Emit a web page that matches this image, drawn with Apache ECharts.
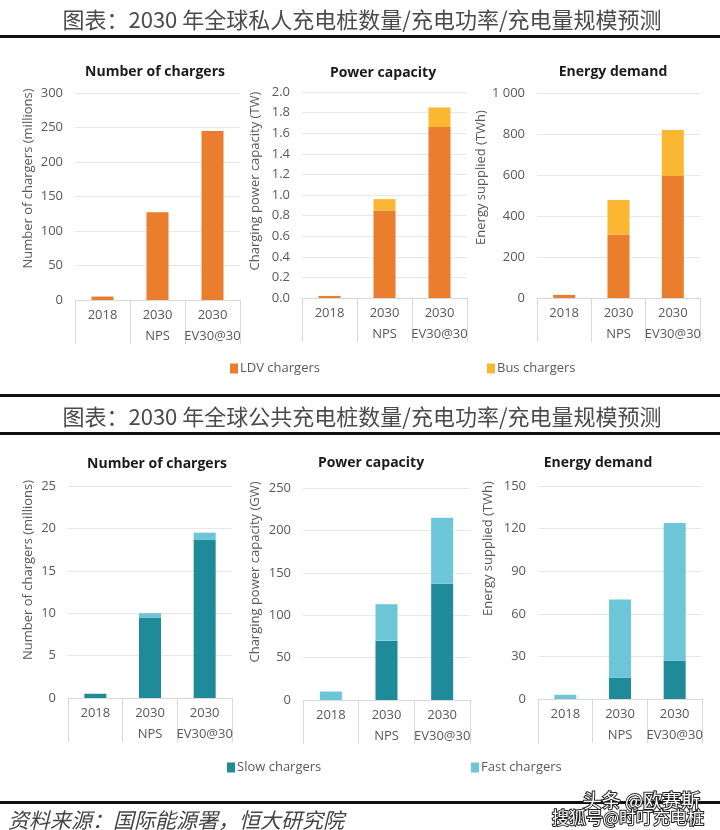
<!DOCTYPE html>
<html>
<head>
<meta charset="utf-8">
<script src="https://cdn.jsdelivr.net/npm/echarts@6/dist/echarts.min.js"></script>
<style>
html,body{margin:0;padding:0;background:#fff;}
#c{width:720px;height:830px;}
</style>
</head>
<body>
<div id="c"></div>
<script>
// ---- data ----
const categories = ['2018', '2030\nNPS', '2030\nEV30@30'];
const privChargersLDV = [5, 127, 245];
const privChargersBus = [0, 0, 0];
const privPowerLDV = [0.02, 0.85, 1.66];
const privPowerBus = [0, 0.11, 0.19];
const privEnergyLDV = [15, 310, 595];
const privEnergyBus = [0, 168, 225];
const pubChargersSlow = [0.5, 9.5, 18.7];
const pubChargersFast = [0, 0.5, 0.8];
const pubPowerSlow = [0, 70, 137];
const pubPowerFast = [10, 43, 78];
const pubEnergySlow = [0, 15, 27];
const pubEnergyFast = [3, 55, 97];

const mainTitleTop = '图表：2030 年全球私人充电桩数量/充电功率/充电量规模预测';
const mainTitleBottom = '图表：2030 年全球公共充电桩数量/充电功率/充电量规模预测';
const sourceText = '资料来源：国际能源署，恒大研究院';
const panelTitles = ['Number of chargers', 'Power capacity', 'Energy demand',
                     'Number of chargers', 'Power capacity', 'Energy demand'];
const axisNames = ['Number of chargers (millions)', 'Charging power capacity (TW)', 'Energy supplied (TWh)',
                   'Number of chargers (millions)', 'Charging power capacity (GW)', 'Energy supplied (TWh)'];
const seriesNames = ['LDV chargers', 'Bus chargers', 'Slow chargers', 'Fast chargers'];

// ---- styles / layout ----
const C_LDV = '#EB7D2E', C_BUS = '#FBB732', C_SLOW = '#1F8A9A', C_FAST = '#6CC6D8';
const FONT = '"Open Sans", "Noto Sans", sans-serif';
const CJK = '"Noto Sans CJK SC", sans-serif';
const grids = [
  {left: 75, top: 93, width: 165, height: 207},
  {left: 302, top: 92, width: 165, height: 206},
  {left: 537, top: 93, width: 163, height: 205},
  {left: 68, top: 486, width: 164, height: 212},
  {left: 303, top: 488, width: 167, height: 212},
  {left: 538, top: 486, width: 164, height: 213}
];
const yCfg = [
  {max: 300, interval: 50, fmt: v => String(v), gap: 40, shift: 18},
  {max: 2, interval: 0.2, fmt: v => v.toFixed(1), gap: 40, shift: 14},
  {max: 1000, interval: 200, fmt: v => v >= 1000 ? '1 000' : String(v), gap: 40, shift: 18},
  {max: 25, interval: 5, fmt: v => String(v), gap: 33, shift: 22},
  {max: 250, interval: 50, fmt: v => String(v), gap: 41, shift: 22},
  {max: 150, interval: 30, fmt: v => String(v), gap: 43, shift: 44}
];
const titlePos = [[155,72],[383,73],[613,72],[157,464],[371,463],[598,463]];

const xAxes = grids.map((g, i) => ({
  type: 'category', gridIndex: i, data: categories,
  axisLine: {lineStyle: {color: '#d9d9d9', width: 1}},
  axisTick: {show: true, interval: 0, length: 44, lineStyle: {color: '#d9d9d9'}},
  axisLabel: {interval: 0, color: '#595959', fontSize: 13, fontFamily: FONT, lineHeight: 21, margin: 5}
}));
const yAxes = grids.map((g, i) => ({
  type: 'value', gridIndex: i, min: 0, max: yCfg[i].max, interval: yCfg[i].interval,
  axisLine: {show: false}, axisTick: {show: false},
  splitLine: {lineStyle: {color: '#e8e8e8'}},
  axisLabel: {color: '#595959', fontSize: 13, fontFamily: FONT, margin: 12, formatter: yCfg[i].fmt},
  name: axisNames[i], nameLocation: 'middle', nameGap: yCfg[i].gap, nameRotate: 90,
  nameTextStyle: {color: '#595959', fontSize: 13, fontFamily: FONT, padding: [0, 0, 0, yCfg[i].shift * 2]}
}));

function bar(name, data, idx, color) {
  return {type: 'bar', name: name, data: data, xAxisIndex: idx, yAxisIndex: idx,
          stack: 's' + idx, barWidth: 22, itemStyle: {color: color}, silent: true};
}
const series = [
  bar(seriesNames[0], privChargersLDV, 0, C_LDV), bar(seriesNames[1], privChargersBus, 0, C_BUS),
  bar(seriesNames[0], privPowerLDV, 1, C_LDV), bar(seriesNames[1], privPowerBus, 1, C_BUS),
  bar(seriesNames[0], privEnergyLDV, 2, C_LDV), bar(seriesNames[1], privEnergyBus, 2, C_BUS),
  bar(seriesNames[2], pubChargersSlow, 3, C_SLOW), bar(seriesNames[3], pubChargersFast, 3, C_FAST),
  bar(seriesNames[2], pubPowerSlow, 4, C_SLOW), bar(seriesNames[3], pubPowerFast, 4, C_FAST),
  bar(seriesNames[2], pubEnergySlow, 5, C_SLOW), bar(seriesNames[3], pubEnergyFast, 5, C_FAST)
];

function legend(name, left, top) {
  return {data: [name], left: left, top: top, icon: 'rect', itemWidth: 8, itemHeight: 10, itemGap: 4,
          selectedMode: false,
          textStyle: {color: '#595959', fontSize: 13, fontFamily: FONT, padding: [0, 0, 0, -3]}};
}
const legends = [
  legend(seriesNames[0], 225, 357), legend(seriesNames[1], 482, 357),
  legend(seriesNames[2], 222, 756), legend(seriesNames[3], 466, 756)
];

const graphics = [];
function hline(y, h) {
  graphics.push({type: 'rect', shape: {x: 0, y: y, width: 720, height: h}, style: {fill: '#111'}, silent: true});
}
hline(35, 3); hline(394, 3); hline(432, 3); hline(801, 3);
graphics.push({type: 'text', x: 362, y: 20, style: {text: mainTitleTop, fill: '#4a4a4a', font: '400 22px ' + CJK, textAlign: 'center', textVerticalAlign: 'middle'}});
graphics.push({type: 'text', x: 362, y: 417, style: {text: mainTitleBottom, fill: '#4a4a4a', font: '400 22px ' + CJK, textAlign: 'center', textVerticalAlign: 'middle'}});
graphics.push({type: 'text', x: 8, y: 820, style: {text: sourceText, fill: '#444', font: 'italic 400 21px ' + CJK, textAlign: 'left', textVerticalAlign: 'middle'}});
graphics.push({type: 'text', x: 700, y: 801, style: {text: '头条 @欧赛斯', fill: '#fff', stroke: '#222', lineWidth: 2, font: '400 19px ' + CJK, textAlign: 'right', textVerticalAlign: 'middle'}});
graphics.push({type: 'text', x: 704, y: 818, style: {text: '搜狐号@时叮充电桩', fill: '#fff', stroke: '#222', lineWidth: 2, font: '400 17px ' + CJK, textAlign: 'right', textVerticalAlign: 'middle'}});
panelTitles.forEach((t, i) => {
  graphics.push({type: 'text', x: titlePos[i][0], y: titlePos[i][1],
    style: {text: t, fill: '#1a1a1a', font: 'bold 14px ' + FONT, textAlign: 'center', textVerticalAlign: 'middle'}});
});

const chart = echarts.init(document.getElementById('c'), null, {renderer: 'canvas'});
chart.setOption({
  backgroundColor: '#fff',
  animation: false,
  grid: grids,
  xAxis: xAxes,
  yAxis: yAxes,
  legend: legends,
  series: series,
  graphic: graphics
});
</script>
</body>
</html>
